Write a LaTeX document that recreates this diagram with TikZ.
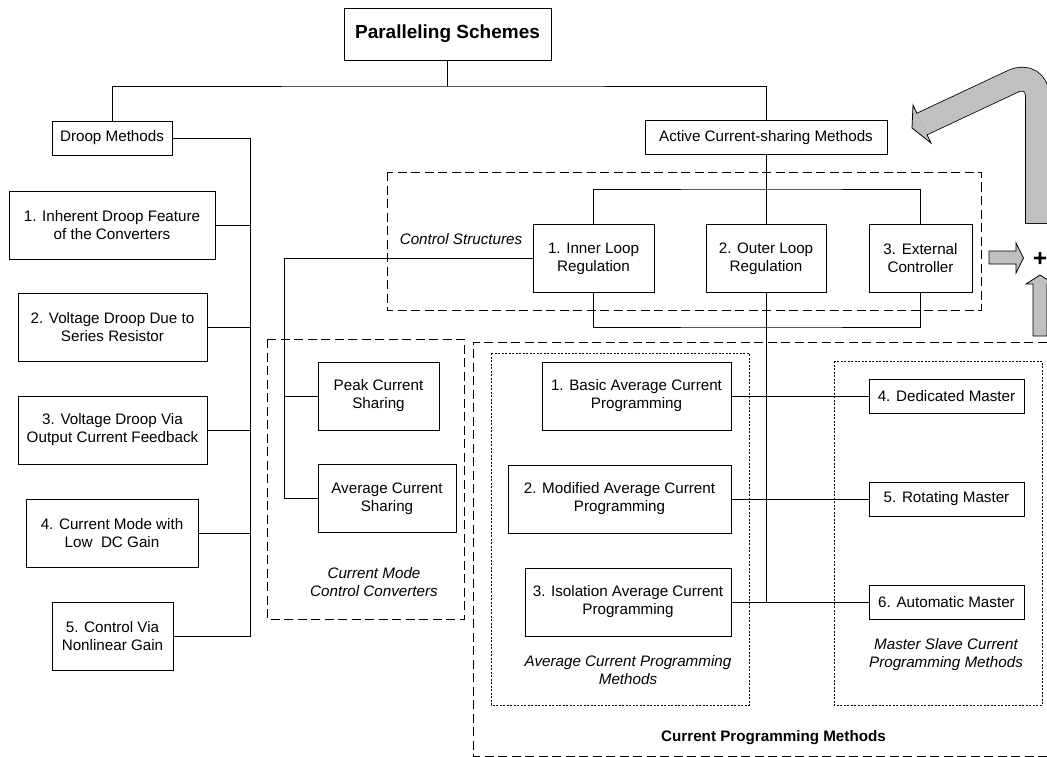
\documentclass[tikz,border=0pt]{standalone}
\usepackage{fontspec}
\setmainfont{Liberation Sans}
\usepackage{tikz}
\usetikzlibrary{arrows.meta}
\definecolor{arrowfill}{RGB}{192,192,192}

\begin{document}
\begin{tikzpicture}[x=1pt, y=-1pt, line width=0.9pt,
        every node/.style={font=\fontsize{15.2}{18}\selectfont},
        box/.style={draw, align=center, minimum height=68pt, inner sep=2pt},
        smallbox/.style={draw, align=center, minimum height=34pt, inner sep=2pt},
        group/.style={dash pattern=on 9pt off 4.5pt},
        subgroup/.style={line width=0.8pt, dash pattern=on 2pt off 1.5pt},
        caption/.style={align=center, font=\fontsize{15.2}{18}\selectfont\itshape},
        blockarrow/.style={fill=arrowfill, draw=black, line width=0.8pt}]
    \useasboundingbox (0,0) rectangle (1047,757);

    \draw[group] (387,172) rectangle (981,310);
    \draw[group] (267,339) rectangle (464,619);
    \draw[group] (1060,342) -| (473,756) -- (1060,756);
    \draw[subgroup] (491,353) rectangle (749,705);
    \draw[subgroup] (834,361) rectangle (1042,705);

    \node[draw, minimum width=207pt, minimum height=52pt, font=\bfseries\fontsize{19}{22}\selectfont] (title) at (447.5,34) {Paralleling Schemes};
    \node[smallbox, minimum width=120pt] (droop) at (112,138) {Droop Methods};
    \node[smallbox, minimum width=242pt] (active) at (766,137.5) {Active Current-sharing Methods};

    \node[box, minimum width=206pt] (d1) at (112,225) {1. Inherent Droop Feature\\of the Converters};
    \node[box, minimum width=189pt] (d2) at (112.5,327) {2. Voltage Droop Due to\\Series Resistor};
    \node[box, minimum width=189pt] (d3) at (112.5,430) {3. Voltage Droop Via\\Output Current Feedback};
    \node[box, minimum width=172pt] (d4) at (112,533) {4. Current Mode with\\Low\ \ DC Gain};
    \node[box, minimum width=121pt] (d5) at (112.5,636.5) {5. Control Via\\Nonlinear Gain};

    \node[box, minimum width=121pt] (inner) at (593.5,258.5) {1. Inner Loop\\Regulation};
    \node[box, minimum width=120pt] (outer) at (766,258.5) {2. Outer Loop\\Regulation};
    \node[box, minimum width=103pt] (external) at (920.5,258.5) {3. External\\Controller};

    \node[box, minimum width=121pt] (peak) at (378.5,396) {Peak Current\\Sharing};
    \node[box, minimum width=138pt] (avgsh) at (387,498.5) {Average Current\\Sharing};

    \node[box, minimum width=189pt] (basic) at (636.5,396) {1. Basic Average Current\\Programming};
    \node[box, minimum width=223pt] (modified) at (619.5,499) {2. Modified Average Current\\Programming};
    \node[box, minimum width=206pt] (isolation) at (628,602) {3. Isolation Average Current\\Programming};

    \node[smallbox, minimum width=155pt] (dedicated) at (946.5,396) {4. Dedicated Master};
    \node[smallbox, minimum width=155pt] (rotating) at (946.5,499) {5. Rotating Master};
    \node[smallbox, minimum width=155pt] (automatic) at (946.5,602) {6. Automatic Master};

    \node[caption, anchor=west] (cslabel) at (396,239) {Control Structures};
    \node[caption] (cmlabel) at (374,582) {Current Mode\\Control Converters};
    \node[caption] (acplabel) at (628,670) {Average Current Programming\\Methods};
    \node[caption] (mslabel) at (946,655) {Master Slave Current\\Programming Methods};
    \node[font=\bfseries\fontsize{15.2}{18}\selectfont] (cplabel) at (773.5,738) {Current Programming Methods};

    \coordinate (split) at (447.5,86);
    \coordinate (dbus) at (250,636.5);
    \coordinate (cbus) at (284,498.5);
    \coordinate (tbus) at (766,189);
    \coordinate (bbus) at (766,327);
    \coordinate (stemend) at (766,602);

    \draw (title.south) -- (split);
    \draw (droop.north) |- (split) -| (active.north);
    \draw (droop.east) -| (dbus) -- (d5.east);
    \foreach \n in {d1,d2,d3,d4}
        \draw (\n.east) -- (\n.east -| dbus);
    \draw (inner.west) -| (cbus) -- (avgsh.west);
    \draw (peak.west) -- (peak.west -| cbus);
    \draw (inner.north) |- (tbus) -| (external.north);
    \draw (inner.south) |- (bbus) -| (external.south);
    \draw (active.south) -- (outer.north);
    \draw (outer.south) -- (stemend);
    \draw (basic.east) -- (dedicated.west);
    \draw (modified.east) -- (rotating.west);
    \draw (isolation.east) -- (automatic.west);

    \coordinate (bendfoot) at (1037.5,223);
    \coordinate (bend) at (1037.5,69.8);
    \coordinate (headbase) at (922,124);
    \draw[line width=24.6pt, rounded corners=27.6pt] (1037.5,223.8) -- (bend) -- (headbase);
    \draw[arrowfill, line width=23pt, rounded corners=27.6pt] (bendfoot) -- (bend) -- (headbase);
    \fill[arrowfill] (913,105) -- (912,128) -- (931,143) -- cycle;
    \draw[line width=0.8pt, line join=miter] (917.1,113.6) -- (913,105) -- (912,128) -- (931,143) -- (926.9,134.4);
    \filldraw[blockarrow] (989,251) -- (1016,251) -- (1016,243) -- (1023.5,258) -- (1016,273) -- (1016,264) -- (989,264) -- cycle;
    \filldraw[blockarrow] (1033,336) -- (1033,284) -- (1026,284) -- (1040,275) -- (1054,284) -- (1047,284) -- (1047,336) -- cycle;
    \node[font=\bfseries\fontsize{24}{24}\selectfont, inner sep=0pt] (plus) at (1040,259) {+};
\end{tikzpicture}
\end{document}
